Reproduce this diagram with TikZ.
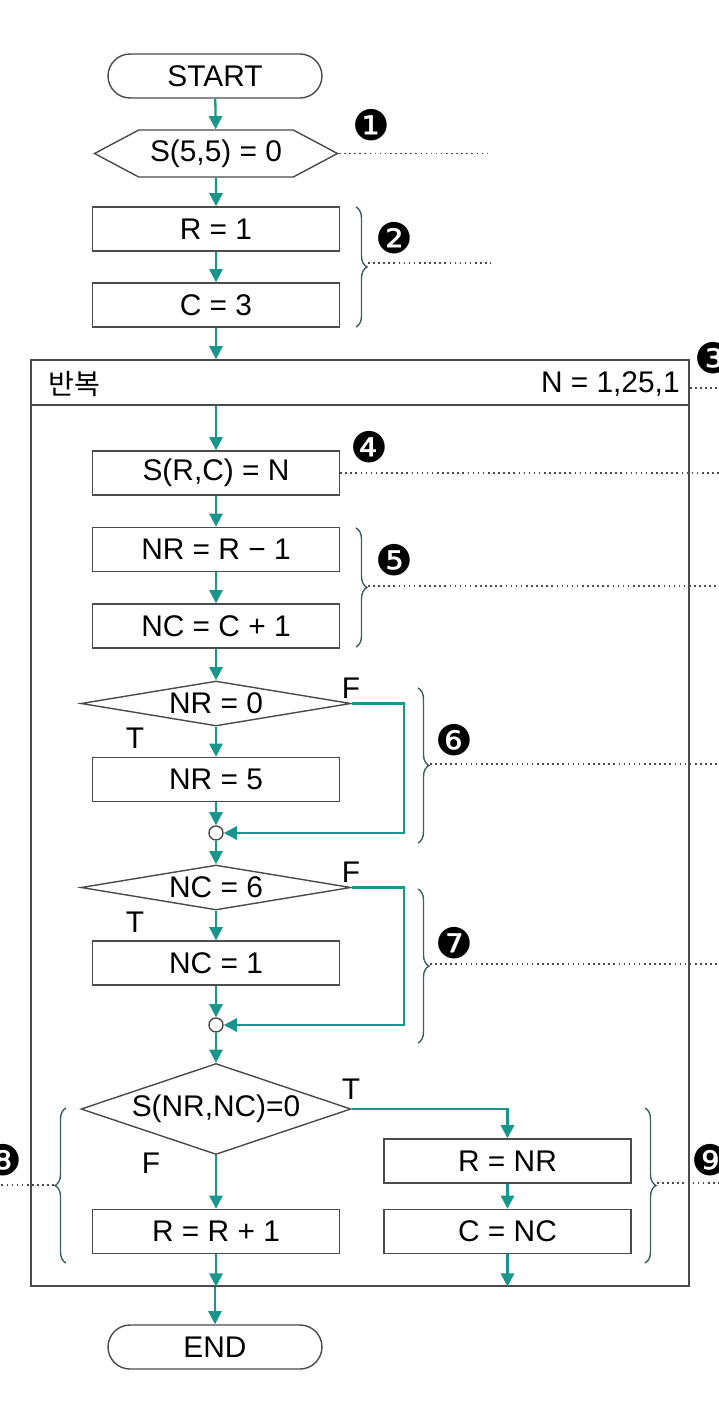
\documentclass[tikz,border=0pt]{standalone}
\usepackage{fontspec}
\setmainfont{Liberation Sans}
\newfontfamily\kr{Noto Sans CJK KR}
\newfontfamily\dingfont{DejaVu Sans}
\usetikzlibrary{
    shapes.geometric,      % Diamonds
    shapes.symbols,        % Pointed preparation box
    decorations.pathreplacing, % Braces
    arrows.meta            % Arrow tips
}
\definecolor{flowteal}{RGB}{24,150,140}
\definecolor{edgegray}{RGB}{75,75,75}

\begin{document}
\begin{tikzpicture}[x=0.02cm,y=-0.02cm,
    font=\fontsize{17}{20}\selectfont,
    shapeline/.style={draw=edgegray,line width=0.8pt,fill=white},
    terminal/.style={shapeline,rounded corners=4.4mm,minimum width=4.28cm,minimum height=0.88cm},
    procbox/.style={shapeline,minimum width=4.94cm,minimum height=0.88cm},
    decision/.style={shapeline,diamond,aspect=6,inner sep=0pt,minimum width=5.4cm,minimum height=0.9cm},
    prep/.style={shapeline,signal,signal to=east and west,signal pointer angle=56,
        minimum width=4.86cm,minimum height=0.94cm,inner sep=0pt},
    joint/.style={shapeline,circle,minimum size=0.28cm,inner sep=0pt},
    loopbox/.style={draw=edgegray,line width=0.8pt,minimum width=13.16cm,inner sep=0pt},
    flow/.style={draw=flowteal,line width=1.3pt,-{Triangle[length=7.5pt,width=7.5pt]}},
    lbl/.style={inner sep=0pt},
    tagnum/.style={font=\dingfont\fontsize{24}{24}\selectfont,inner sep=0pt},
    guide/.style={draw=edgegray,dotted,line width=0.9pt},
    bracket/.style={draw=edgegray!70!flowteal,line width=0.8pt,decorate,
        decoration={brace,amplitude=0.22cm}}
]
    \useasboundingbox (0,0) rectangle (719,1423);

    % loop frame
    \node[loopbox,minimum height=0.9cm] (head) at (360,382.5) {};
    \node[loopbox,minimum height=17.62cm] (body) at (360,845.5) {};
    \node[lbl,anchor=west] (rep) at (48,384) {\kr\fontsize{16}{16}\selectfont 반복};
    \node[lbl,anchor=east] (range) at (680,384) {N = 1,25,1};

    % steps
    \node[terminal] (start) at (215,76) {START};
    \node[prep] (init) at (216,153.5) {S(5,5) = 0};
    \node[procbox] (r1) at (216,229) {R = 1};
    \node[procbox] (c3) at (216,305) {C = 3};
    \node[procbox] (src) at (216,473) {S(R,C) = N};
    \node[procbox] (nr1) at (216,549.5) {NR = R − 1};
    \node[procbox] (nc1) at (216,626) {NC = C + 1};
    \node[decision] (dnr) at (216,703.5) {NR = 0};
    \node[procbox] (nr5) at (216,779.5) {NR = 5};
    \node[joint] (j1) at (216,833) {};
    \node[decision] (dnc) at (216,887.5) {NC = 6};
    \node[procbox] (nc6) at (216,963) {NC = 1};
    \node[joint] (j2) at (216,1025) {};
    \node[decision,aspect=3,minimum height=1.82cm] (dsn) at (216,1109) {S(NR,NC)=0};
    \node[procbox] (rr) at (216,1231.5) {R = R + 1};
    \node[procbox] (rnr) at (507.5,1161) {R = NR};
    \node[procbox] (cnc) at (507.5,1231.5) {C = NC};
    \node[terminal] (end) at (215,1347) {END};

    % connectors
    \draw[flow] (start) -- (init);
    \draw[flow] (init) -- (r1);
    \draw[flow] (r1) -- (c3);
    \draw[flow] (c3) -- (c3 |- head.north);
    \draw[flow] (head.south -| src) -- (src);
    \draw[flow] (src) -- (nr1);
    \draw[flow] (nr1) -- (nc1);
    \draw[flow] (nc1) -- (dnr);
    \draw[flow] (dnr) -- (nr5);
    \draw[flow] (nr5) -- (j1);
    \draw[flow] (dnr.east) -- ++(52,0) |- (j1);
    \draw[flow] (j1) -- (dnc);
    \draw[flow] (dnc) -- (nc6);
    \draw[flow] (nc6) -- (j2);
    \draw[flow] (dnc.east) -- ++(52,0) |- (j2);
    \draw[flow] (j2) -- (dsn);
    \draw[flow] (dsn) -- (rr);
    \draw[flow] (dsn.east) -| (rnr);
    \draw[flow] (rnr) -- (cnc);
    \draw[flow] (rr) -- (rr |- body.south);
    \draw[flow] (cnc) -- (cnc |- body.south);
    \draw[flow] (body.south -| end) -- (end);

    % branch labels
    \node[lbl] (f1) at (351,688) {F};
    \node[lbl] (t1) at (135,738) {T};
    \node[lbl] (f2) at (351,872) {F};
    \node[lbl] (t2) at (135,922) {T};
    \node[lbl] (t3) at (351,1089) {T};
    \node[lbl] (f3) at (151,1163) {F};

    % braces
    \draw[bracket] (356,207) -- (356,327);
    \draw[bracket] (356,528) -- (356,647);
    \draw[bracket] (418,688) -- (418,843);
    \draw[bracket] (418,889) -- (418,1043);
    \draw[bracket] (66,1263) -- (66,1108);
    \draw[bracket] (645,1108) -- (645,1263);

    % guide lines
    \coordinate (g1) at (491,153.5);
    \coordinate (g2) at (491,263);
    \draw[guide] (init.east) -- (g1);
    \draw[guide] (368,263) -- (g2);
    \draw[guide] (690,388) -- (719,388);
    \draw[guide] (src.east) -- (719,473);
    \draw[guide] (368,586) -- (719,586);
    \draw[guide] (430,764) -- (719,764);
    \draw[guide] (430,964) -- (719,964);
    \draw[guide] (54,1185) -- (0,1185);
    \draw[guide] (657,1183) -- (719,1183);

    % numbers
    \node[tagnum] (n1) at (371,125) {❶};
    \node[tagnum] (n2) at (394,238) {❷};
    \node[tagnum] (n3) at (713,358) {❸};
    \node[tagnum] (n4) at (369,447) {❹};
    \node[tagnum] (n5) at (394,560) {❺};
    \node[tagnum] (n6) at (454,740) {❻};
    \node[tagnum] (n7) at (454,943) {❼};
    \node[tagnum] (n8) at (3,1160) {❽};
    \node[tagnum] (n9) at (710,1160) {❾};
\end{tikzpicture}
\end{document}
